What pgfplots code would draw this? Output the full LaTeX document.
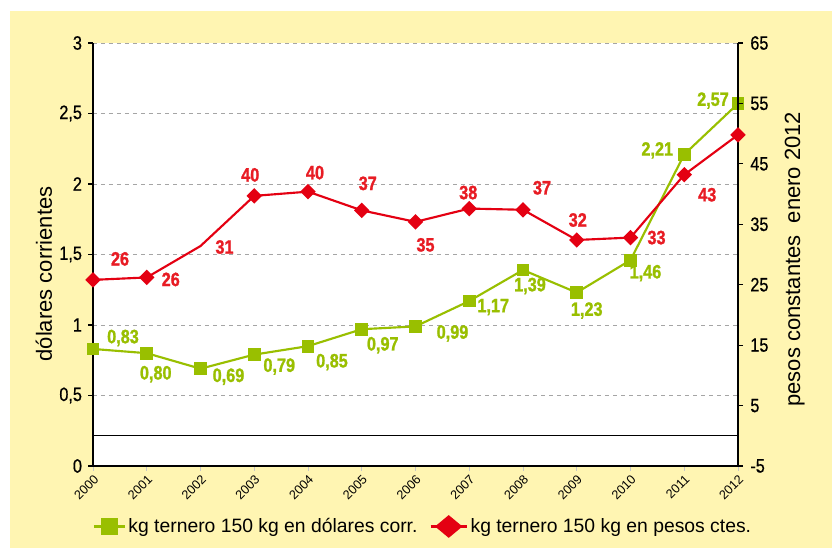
\documentclass[border=0pt]{standalone}
\usepackage{pgfplots}
\pgfplotsset{compat=1.18}
\usepackage{fontspec}
\setmainfont{Liberation Sans}
\newfontfamily\condfont[FakeStretch=0.84, FakeBold=0.6]{Liberation Sans}
\newfontfamily\condbold[FakeStretch=0.84, UprightFont={* Bold}, FakeBold=1.2]{Liberation Sans}
\definecolor{bgy}{RGB}{255,245,178}
\definecolor{cgreen}{RGB}{153,191,0}
\definecolor{cred}{RGB}{228,0,18}
\definecolor{clab}{RGB}{232,28,36}
\definecolor{cgrid}{RGB}{165,165,165}
\tikzset{lbl/.style={font=\condbold\fontsize{14.5}{15}\selectfont, inner sep=0pt}}
\newcommand{\lab}[6]{\node[lbl, text=#1, xshift=0.75*#4pt, yshift=-0.75*#5pt] at (axis cs:#2,#3) {#6};}
\begin{document}
\begin{tikzpicture}
\useasboundingbox (0,0) rectangle (624pt,411pt);
\fill[bgy] (7.5pt,0) rectangle (624pt,402.75pt);
\pgfplotsset{
  common/.style={
    at={(69.75pt,61.5pt)}, anchor=south west, scale only axis,
    width=483.75pt, height=317.25pt,
    xmin=2000, xmax=2012,
    /pgf/number format/assume math mode=true,
    /pgf/number format/use comma,
    /pgf/number format/1000 sep={},
    tick align=outside, major tick length=3.75pt,
    axis line style={black, line width=1pt},
    tick style={black, line width=0.8pt},
    yticklabel style={font=\condfont\fontsize{14.5}{15}\selectfont},
  }
}
\begin{axis}[common,
  ymin=0, ymax=3, ytick={0,0.5,...,3},
  xtick={2000,...,2012},
  axis x line*=bottom, axis y line*=left,
  axis background/.style={fill=white},
  ymajorgrids, grid style={cgrid, dashed, line width=0.6pt},
  x tick style={gray!45, line width=0.6pt},
  xticklabel style={font=\fontsize{9.5}{10}\selectfont, rotate=45, anchor=north east, inner sep=1.5pt},
  yticklabel style={xshift=-1pt},
  ylabel={dólares corrientes},
  ylabel style={at={(axis description cs:-0.076,0.454)}, anchor=center, font=\fontsize{16.5}{18}\selectfont},
]
\addplot[cgreen, line width=1.6pt, mark=square*, mark size=4pt, mark options={solid}] coordinates {
(2000,0.83) (2001,0.80) (2002,0.69) (2003,0.79) (2004,0.85) (2005,0.97) (2006,0.99)
(2007,1.17) (2008,1.39) (2009,1.23) (2010,1.46) (2011,2.21) (2012,2.57)};
\lab{cgreen}{2000}{0.83}{30}{-11}{0,83}
\lab{cgreen}{2001}{0.80}{9}{21}{0,80}
\lab{cgreen}{2002}{0.69}{28}{8}{0,69}
\lab{cgreen}{2003}{0.79}{25}{12}{0,79}
\lab{cgreen}{2004}{0.85}{24}{16}{0,85}
\lab{cgreen}{2005}{0.97}{21}{16}{0,97}
\lab{cgreen}{2006}{0.99}{37}{7}{0,99}
\lab{cgreen}{2007}{1.17}{24}{6}{1,17}
\lab{cgreen}{2008}{1.39}{7}{16}{1,39}
\lab{cgreen}{2009}{1.23}{10}{18}{1,23}
\lab{cgreen}{2010}{1.46}{15}{13}{1,46}
\lab{cgreen}{2011}{2.21}{-27}{-4}{2,21}
\lab{cgreen}{2012}{2.57}{-25}{-3}{2,57}
\end{axis}
\begin{axis}[common,
  ymin=-5, ymax=65, ytick={-5,5,...,65},
  xtick=\empty,
  axis y line*=right, axis x line=none,
  yticklabel style={xshift=2pt},
  ylabel={pesos constantes\ \ enero 2012},
  ylabel style={at={(axis description cs:1.088,0.489)}, anchor=center, rotate=0, font=\fontsize{16.5}{18}\selectfont},
  legend columns=2,
  legend cell align=left,
  legend style={at={(axis description cs:0.512,-0.143)}, anchor=center, draw=none, fill=none,
    font=\fontsize{14.5}{16}\selectfont,
    /tikz/every even column/.append style={column sep=7pt}},
]
\addplot[black, line width=0.8pt, forget plot] coordinates {(2000,0) (2012,0)};
\addlegendimage{legend image code/.code={
  \draw[cgreen, line width=1.8pt] (0pt,0pt) -- (23pt,0pt);
  \fill[cgreen] (5.5pt,-6pt) rectangle (17.5pt,6pt);}}
\addlegendentry{kg ternero 150 kg en dólares corr.}
\addplot[cred, line width=1.6pt, mark=square*, mark size=3.3pt,
  mark options={solid, rotate=45},
  mark indices={1,2,4,5,6,7,8,9,10,11,12,13},
  legend image code/.code={
  \draw[cred, line width=1.8pt] (0pt,0pt) -- (27pt,0pt);
  \fill[cred] (4.5pt,0pt) -- (13.5pt,7.5pt) -- (22.5pt,0pt) -- (13.5pt,-7.5pt) -- cycle;}
] coordinates {
(2000,25.8) (2001,26.2) (2002,31.4) (2003,39.7) (2004,40.4) (2005,37.3) (2006,35.4)
(2007,37.6) (2008,37.4) (2009,32.4) (2010,32.8) (2011,43.2) (2012,49.8)};
\addlegendentry{kg ternero 150 kg en pesos ctes.}
\lab{clab}{2000}{25.8}{27}{-21}{26}
\lab{clab}{2001}{26.2}{24}{2}{26}
\lab{clab}{2002}{31.4}{24}{1}{31}
\lab{clab}{2003}{39.7}{-4}{-21}{40}
\lab{clab}{2004}{40.4}{7}{-19}{40}
\lab{clab}{2005}{37.3}{6}{-27}{37}
\lab{clab}{2006}{35.4}{10}{23}{35}
\lab{clab}{2007}{37.6}{-1}{-16}{38}
\lab{clab}{2008}{37.4}{19}{-22}{37}
\lab{clab}{2009}{32.4}{1}{-20}{32}
\lab{clab}{2010}{32.8}{26}{0}{33}
\lab{clab}{2011}{43.2}{23}{20}{43}
\lab{clab}{2012}{49.8}{25}{0}{50}
\end{axis}
\end{tikzpicture}
\end{document}
